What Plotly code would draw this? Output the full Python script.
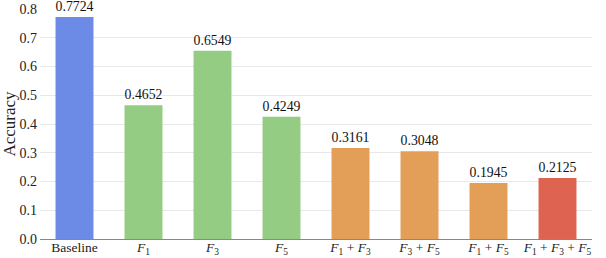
import plotly.graph_objects as go

categories = ["Baseline", "<i>F</i><sub>1</sub>", "<i>F</i><sub>3</sub>", "<i>F</i><sub>5</sub>",
              "<i>F</i><sub>1</sub> + <i>F</i><sub>3</sub>", "<i>F</i><sub>3</sub> + <i>F</i><sub>5</sub>",
              "<i>F</i><sub>1</sub> + <i>F</i><sub>5</sub>",
              "<i>F</i><sub>1</sub> + <i>F</i><sub>3</sub> + <i>F</i><sub>5</sub>"]
values = [0.7724, 0.4652, 0.6549, 0.4249, 0.3161, 0.3048, 0.1945, 0.2125]
colors = ["#6C8BE6", "#95CC84", "#95CC84", "#95CC84", "#E39E58", "#E39E58", "#E39E58", "#DE6451"]
y_ticks = [0.0, 0.1, 0.2, 0.3, 0.4, 0.5, 0.6, 0.7, 0.8]

SERIF = "Liberation Serif"

fig = go.Figure(go.Bar(
    x=categories, y=values, marker_color=colors, marker_line_width=0,
    text=[f"{v:.4f}" for v in values], textposition="outside",
    textfont=dict(family=SERIF, size=14, color="#111"),
    cliponaxis=False,
))
fig.update_layout(
    width=606, height=258,
    margin=dict(l=40, r=14, t=9, b=19, autoexpand=False),
    paper_bgcolor="white", plot_bgcolor="white",
    font=dict(family=SERIF, size=14, color="#222"),
    bargap=0.45,
    showlegend=False,
    yaxis=dict(range=[0, 0.8], tickvals=y_ticks, tickformat=".1f", automargin=False,
               gridcolor="#E8E8E8", zeroline=False, showline=False,
               title=dict(text="Accuracy", standoff=6), ticks="", ticklabelstandoff=2),
    xaxis=dict(showline=True, linecolor="#888", linewidth=1, ticks="", showgrid=False,
               automargin=False, tickfont=dict(size=13.5), ticklabelstandoff=-4),
)
fig.write_html("out.html", config={"displayModeBar": False},
               post_script="document.body.style.margin='0px';")
